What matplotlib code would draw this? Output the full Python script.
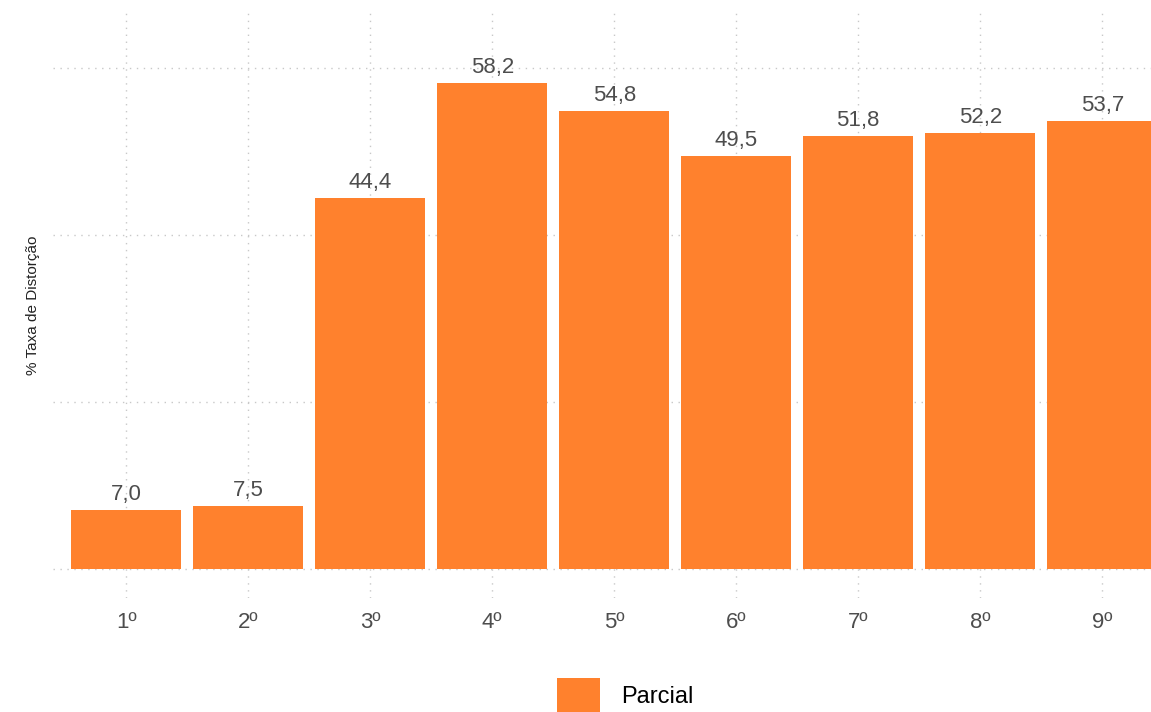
import matplotlib
matplotlib.use('Agg')
import matplotlib.pyplot as plt

# data
posicoes = ['1º', '2º', '3º', '4º', '5º', '6º', '7º', '8º', '9º']
taxa = [7.0, 7.5, 44.4, 58.2, 54.8, 49.5, 51.8, 52.2, 53.7]
serie = 'Parcial'

plt.rcParams['font.family'] = ['Liberation Sans', 'DejaVu Sans']

fig = plt.figure(figsize=(11.51, 7.12), dpi=100)
ax = fig.add_axes([53 / 1151, 1 - 598 / 712, 1098 / 1151, 586 / 712])

x = list(range(1, len(posicoes) + 1))
ax.bar(x, taxa, width=0.9, color='#ff812d', label=serie, zorder=2)

# value labels above the bars
for xi, v in zip(x, taxa):
    ax.text(xi, v + 0.6, f'{v:.1f}'.replace('.', ','), ha='center', va='bottom',
            fontsize=16, color='#4d4d4d', zorder=3)

ax.set_xlim(0.4, 9.4)
ax.set_ylim(-3.5, 66.7)
ax.set_xticks(x)
ax.set_xticklabels(posicoes, fontsize=16, color='#4d4d4d')
ax.set_yticks([0, 20, 40, 60])
ax.set_yticklabels([])
ax.tick_params(length=0, pad=10)
ax.grid(True, linestyle=(0, (1, 4)), color='#c8c8c8', linewidth=1, zorder=0)
for s in ax.spines.values():
    s.set_visible(False)

ax.set_ylabel('% Taxa de Distorção', fontsize=11, color='#222222')
ax.yaxis.set_label_coords(-0.012, 0.5)

fig.legend(loc='center left', bbox_to_anchor=(557 / 1151, 17 / 712), frameon=False,
           fontsize=17, handlelength=1.8, handleheight=1.8, handletextpad=0.9,
           borderpad=0, borderaxespad=0)

fig.savefig('out.png', dpi=100)
